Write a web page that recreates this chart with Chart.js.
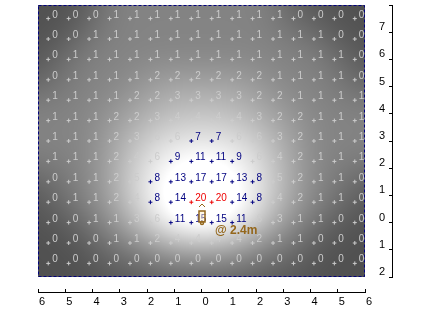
<!DOCTYPE html>
<html>
<head>
<meta charset="utf-8">
<script src="https://cdn.jsdelivr.net/npm/chart.js@4.4.0/dist/chart.umd.min.js"></script>
<style>
  html, body { margin: 0; padding: 0; background: #fff; }
  canvas { display: block; }
</style>
</head>
<body>
<canvas id="grafica_iluminancia" width="430" height="310"></canvas>
<script>
// calculation grid (m)
const xPositions = [-5.625, -4.875, -4.125, -3.375, -2.625, -1.875, -1.125, -0.375, 0.375, 1.125, 1.875, 2.625, 3.375, 4.125, 4.875, 5.625];
const yPositions = [7.5, 6.75, 6, 5.25, 4.5, 3.75, 3, 2.25, 1.5, 0.75, 0, -0.75, -1.5];

// illuminance per grid row, top to bottom
const row_7_50 = [0,0,0,1,1,1,1,1,1,1,1,1,0,0,0,0];
const row_6_75 = [0,0,1,1,1,1,1,1,1,1,1,1,1,1,0,0];
const row_6_00 = [0,1,1,1,1,1,1,1,1,1,1,1,1,1,1,0];
const row_5_25 = [0,1,1,1,1,2,2,2,2,2,2,1,1,1,1,0];
const row_4_50 = [1,1,1,1,2,2,3,3,3,3,2,2,1,1,1,1];
const row_3_75 = [1,1,1,2,2,3,4,4,4,4,3,2,2,1,1,1];
const row_3_00 = [1,1,1,2,3,6,6,7,7,6,6,3,2,1,1,1];
const row_2_25 = [1,1,1,2,4,6,9,11,11,9,6,4,2,1,1,1];
const row_1_50 = [0,1,1,2,5,8,13,17,17,13,8,5,2,1,1,0];
const row_0_75 = [0,1,1,2,4,8,14,20,20,14,8,4,2,1,1,0];
const row_0_00 = [0,0,1,1,3,6,11,15,15,11,6,3,1,1,0,0];
const row_m0_75 = [0,0,0,1,1,2,4,4,4,4,2,1,1,0,0,0];
const row_m1_50 = [0,0,0,0,0,0,0,0,0,0,0,0,0,0,0,0];
const illuminance = [row_7_50, row_6_75, row_6_00, row_5_25, row_4_50, row_3_75, row_3_00,
                     row_2_25, row_1_50, row_0_75, row_0_00, row_m0_75, row_m1_50];

// luminaire
const luminaireX = [0];
const luminaireY = [0.2];
const luminaireLabels = ["@ 2.4m"];

// axis labels
const xTickLabels = ["6","5","4","3","2","1","0","1","2","3","4","5","6"];
const yTickLabels = ["2","1","0","1","2","3","4","5","6","7",""];

const navy = "#000080";
const lightGray = "#cccccc";
const red = "#ee0000";
const brown = "#94671c";

function colorFor(v){
    if (v >= 20) return red;
    if (v >= 7) return navy;
    return lightGray;
}

const points = { [lightGray]: [], [navy]: [], [red]: [] };
illuminance.forEach((row, r) => {
    row.forEach((v, c) => {
        points[colorFor(v)].push({ x: xPositions[c], y: yPositions[r], v: v });
    });
});

// grey shading: gaussian-smoothed log of the grid values
function greyOf(v){
    return 80 + 74 * Math.log(1 + v);
}
function weights(value, positions, sigma){
    return positions.map(p => Math.exp(-((value - p) ** 2) / (2 * sigma * sigma)));
}

const background = {
    id: "background",
    beforeDatasetsDraw(chart){
        const {ctx, chartArea: a, scales: {x, y}} = chart;
        const left = Math.round(a.left), top = Math.round(a.top);
        const w = Math.round(a.right) - left, h = Math.round(a.bottom) - top;
        const img = ctx.createImageData(w, h);
        const greys = illuminance.map(row => row.map(greyOf));
        const sigma = 0.75;
        const wx = [], wy = [];
        for (let px = 0; px < w; px++) wx.push(weights(x.getValueForPixel(left + px + 0.5), xPositions, sigma));
        for (let py = 0; py < h; py++) wy.push(weights(y.getValueForPixel(top + py + 0.5), yPositions, sigma));
        for (let py = 0; py < h; py++) {
            const ry = wy[py];
            for (let px = 0; px < w; px++) {
                const cx = wx[px];
                let sum = 0, sw = 0;
                for (let r = 0; r < greys.length; r++) {
                    if (ry[r] < 1e-4) continue;
                    const row = greys[r];
                    for (let c = 0; c < row.length; c++) {
                        const wt = ry[r] * cx[c];
                        sum += wt * row[c];
                        sw += wt;
                    }
                }
                const g = Math.max(0, Math.min(255, sum / sw));
                const k = (py * w + px) * 4;
                img.data[k] = img.data[k+1] = img.data[k+2] = g;
                img.data[k+3] = 255;
            }
        }
        ctx.putImageData(img, left, top);

        ctx.save();
        ctx.strokeStyle = navy;
        ctx.lineWidth = 1;
        ctx.setLineDash([3, 2]);
        ctx.strokeRect(left + 0.5, top + 0.5, w - 1, h - 1);
        ctx.restore();
    },
    afterDatasetsDraw(chart){
        const ctx = chart.ctx;
        ctx.save();
        ctx.font = '10px "Liberation Sans"';
        ctx.textBaseline = "alphabetic";
        ctx.textAlign = "left";
        chart.data.datasets.forEach((ds, i) => {
            if (ds.luminaire) return;
            chart.getDatasetMeta(i).data.forEach((pt, j) => {
                ctx.fillStyle = ds.borderColor;
                ctx.fillText(String(ds.data[j].v), pt.x + 4, pt.y - 1);
            });
        });

        // luminaire symbol and mounting height
        chart.data.datasets.forEach((ds, i) => {
            if (!ds.luminaire) return;
            chart.getDatasetMeta(i).data.forEach((pt, j) => {
                const cx = Math.round(pt.x), cy = Math.round(pt.y);
                ctx.strokeStyle = brown;
                ctx.lineWidth = 1.5;
                ctx.fillStyle = "rgba(255,240,200,0.45)";
                ctx.fillRect(cx - 3, cy - 6, 6, 11);
                ctx.strokeRect(cx - 3, cy - 6, 6, 11);
                ctx.beginPath();
                ctx.arc(cx, cy + 6, 1.5, 0, Math.PI * 2);
                ctx.stroke();
                ctx.lineWidth = 1;
                ctx.beginPath();
                ctx.moveTo(cx - 3, cy - 10);
                ctx.lineTo(cx, cy - 13);
                ctx.lineTo(cx + 3, cy - 10);
                ctx.stroke();
                ctx.fillStyle = brown;
                ctx.font = 'bold 12px "Liberation Sans"';
                ctx.fillText(luminaireLabels[j], cx + 13, cy + 17);
            });
        });
        ctx.restore();
    },
    afterLayout(chart){
        // axes stand apart from the plot frame
        const {x, y} = chart.scales;
        x.top += 15; x.bottom += 15;
        y.left += 27; y.right += 27;
    }
};

function pointSet(color){
    return {
        data: points[color],
        pointStyle: "cross",
        pointRadius: 2,
        borderWidth: 1,
        borderColor: color,
        backgroundColor: color,
        showLine: false
    };
}

new Chart("grafica_iluminancia", {
    type: "scatter",
    data: {
        datasets: [
            pointSet(lightGray),
            pointSet(navy),
            pointSet(red),
            {
                luminaire: true,
                data: luminaireX.map((x, i) => ({ x: x, y: luminaireY[i] })),
                pointRadius: 0
            }
        ]
    },
    options: {
        responsive: false,
        animation: false,
        devicePixelRatio: 1,
        layout: { padding: { left: 38, top: 5, right: 25, bottom: 3 } },
        plugins: { legend: { display: false }, tooltip: { enabled: false } },
        scales: {
            x: {
                type: "linear",
                position: "bottom",
                min: -6,
                max: 6,
                afterFit(s){ s.height = 30; s.paddingLeft = 0; s.paddingRight = 0; },
                ticks: {
                    stepSize: 1,
                    autoSkip: false,
                    maxRotation: 0,
                    padding: 6,
                    labelOffset: 4,
                    color: "#000",
                    font: { family: "Liberation Sans", size: 11 },
                    callback: (value, index) => xTickLabels[index]
                },
                grid: { drawOnChartArea: false, tickLength: -3, color: "#000" },
                border: { color: "#000", width: 1 }
            },
            y: {
                type: "linear",
                position: "right",
                min: -2,
                max: 8,
                afterFit(s){ s.width = 40; s.paddingTop = 0; s.paddingBottom = 0; },
                ticks: {
                    stepSize: 1,
                    autoSkip: false,
                    mirror: true,
                    padding: -7,
                    labelOffset: -5,
                    color: "#000",
                    font: { family: "Liberation Sans", size: 11 },
                    callback: (value, index) => yTickLabels[index]
                },
                grid: { drawOnChartArea: false, tickLength: -3, color: "#000" },
                border: { color: "#000", width: 1 }
            }
        }
    },
    plugins: [background]
});
</script>
</body>
</html>
